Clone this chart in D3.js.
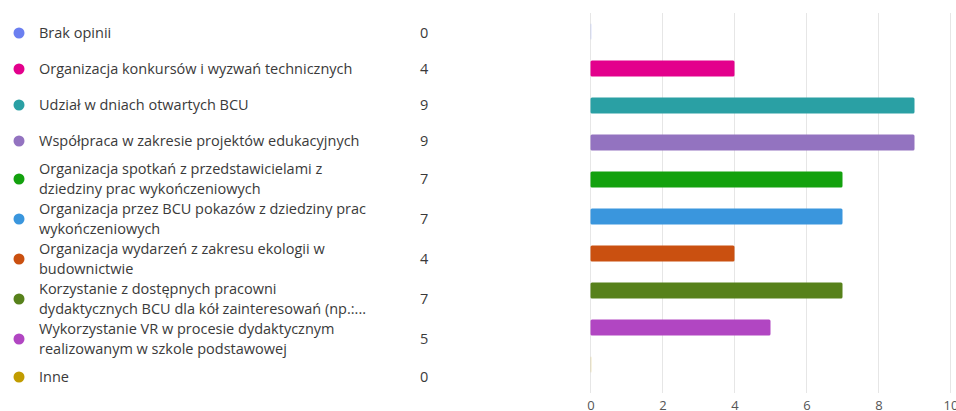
<!DOCTYPE html>
<html><head><meta charset="utf-8">
<script src="https://cdn.jsdelivr.net/npm/d3@7"></script>
<style>
html,body{margin:0;padding:0;background:#fff;}
svg{display:block;font-family:"Open Sans","Noto Sans",sans-serif;}
</style></head>
<body>
<svg id="chart" width="956" height="411"></svg>
<script>
const categories = [
  "Brak opinii",
  "Organizacja konkursów i wyzwań technicznych",
  "Udział w dniach otwartych BCU",
  "Współpraca w zakresie projektów edukacyjnych",
  "Organizacja spotkań z przedstawicielami z dziedziny prac wykończeniowych",
  "Organizacja przez BCU pokazów z dziedziny prac wykończeniowych",
  "Organizacja wydarzeń z zakresu ekologii w budownictwie",
  "Korzystanie z dostępnych pracowni dydaktycznych BCU dla kół zainteresowań (np.:...",
  "Wykorzystanie VR w procesie dydaktycznym realizowanym w szkole podstawowej",
  "Inne"
];
const labelLines = [
  ["Brak opinii"],
  ["Organizacja konkursów i wyzwań technicznych"],
  ["Udział w dniach otwartych BCU"],
  ["Współpraca w zakresie projektów edukacyjnych"],
  ["Organizacja spotkań z przedstawicielami z", "dziedziny prac wykończeniowych"],
  ["Organizacja przez BCU pokazów z dziedziny prac", "wykończeniowych"],
  ["Organizacja wydarzeń z zakresu ekologii w", "budownictwie"],
  ["Korzystanie z dostępnych pracowni", "dydaktycznych BCU dla kół zainteresowań (np.:..."],
  ["Wykorzystanie VR w procesie dydaktycznym", "realizowanym w szkole podstawowej"],
  ["Inne"]
];
const values = [0, 4, 9, 9, 7, 7, 4, 7, 5, 0];
const colors = ["#6b7ff0", "#e3008c", "#2aa0a4", "#9373c0", "#13a10e", "#3a96dd", "#ca5010", "#57811b", "#b146c2", "#c19c00"];
const xTicks = [0, 2, 4, 6, 8, 10];

const svg = d3.select("#chart");
const x = d3.scaleLinear().domain([0, 10]).range([590.5, 950.5]);
const pIn = 21/37;
const y = d3.scaleBand().domain(categories).range([13, 383]).paddingInner(pIn).paddingOuter(pIn/2);

// gridlines
svg.append("g").selectAll("line").data(xTicks).join("line")
  .attr("x1", d => x(d)).attr("x2", d => x(d))
  .attr("y1", 13).attr("y2", 393)
  .attr("stroke", "#e6e6e6").attr("stroke-width", 1);

// axis labels
const axis = d3.axisBottom(x).tickValues(xTicks).tickSize(0).tickPadding(0);
const ag = svg.append("g").attr("transform", "translate(0,398)").call(axis);
ag.select(".domain").remove();
ag.selectAll("text").attr("fill", "#555").attr("font-size", 13)
  .attr("font-family", "'Open Sans','Noto Sans',sans-serif").attr("dy", "0.95em");

// bars
const data = categories.map((c, i) => ({c, v: values[i], col: colors[i], lines: labelLines[i]}));
svg.append("g").selectAll("rect").data(data).join("rect")
  .attr("x", x(0))
  .attr("y", d => y(d.c))
  .attr("width", d => Math.max(1, x(d.v) - x(0)))
  .attr("height", y.bandwidth())
  .attr("rx", 1.5)
  .attr("fill", d => d.col)
  .attr("opacity", d => d.v === 0 ? 0.25 : 1);

// legend layout (own row heights: single line 36, two lines 40)
let acc = 15;
data.forEach(d => {
  const h = d.lines.length > 1 ? 40 : 36;
  d.ly = acc + h/2;
  acc += h;
});
const lg = svg.append("g").selectAll("g").data(data).join("g")
  .attr("transform", d => `translate(0,${d.ly})`);
lg.append("circle").attr("cx", 19).attr("cy", 0).attr("r", 5.5).attr("fill", d => d.col);
lg.append("text").attr("x", 39).attr("fill", "#3a3a3a").attr("font-size", 14.5)
  .each(function(d) {
    const t = d3.select(this);
    const n = d.lines.length, lh = 19.5;
    d.lines.forEach((l, k) => {
      t.append("tspan").attr("x", 39).attr("y", (k - (n-1)/2) * lh).attr("dy", "0.35em").text(l);
    });
  });
lg.append("text").attr("x", 420).attr("dy", "0.35em").attr("fill", "#3a3a3a").attr("font-size", 14.5)
  .text(d => d.v);
</script>
</body></html>
